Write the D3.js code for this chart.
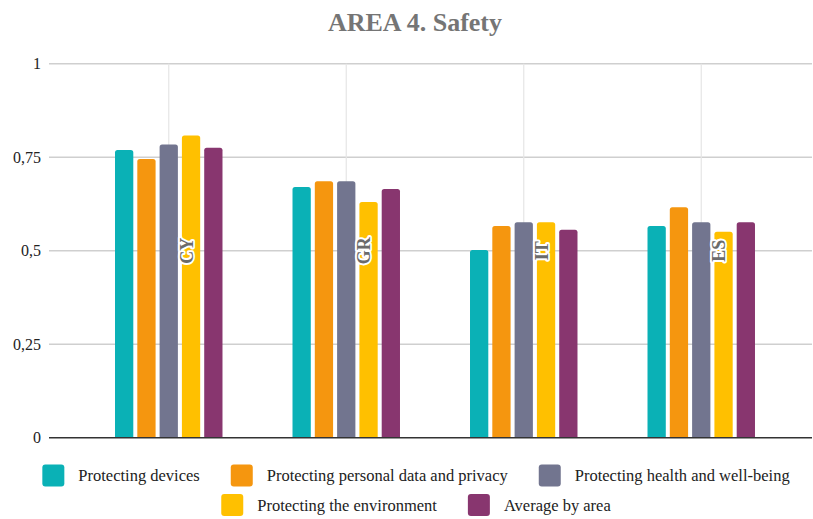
<!DOCTYPE html>
<html>
<head>
<meta charset="utf-8">
<script src="https://cdn.jsdelivr.net/npm/d3@7"></script>
<style>
  html, body { margin: 0; padding: 0; background: #fff; }
  svg { display: block; }
  text { font-family: "Liberation Serif", "DejaVu Serif", "Times New Roman", serif; }
</style>
</head>
<body>
<svg id="chart" width="813" height="519"></svg>
<script>
const title = "AREA 4. Safety";
const categories = ["CY", "GR", "IT", "ES"];
const seriesNames = [
  "Protecting devices",
  "Protecting personal data and privacy",
  "Protecting health and well-being",
  "Protecting the environment",
  "Average by area"
];
const seriesColors = ["#0AB1B6", "#F5960F", "#72758F", "#FFC000", "#88366F"];
const protectingDevices = [0.769, 0.670, 0.502, 0.566];
const protectingPersonalData = [0.745, 0.686, 0.566, 0.616];
const protectingHealth = [0.784, 0.686, 0.576, 0.576];
const protectingEnvironment = [0.808, 0.630, 0.576, 0.551];
const averageByArea = [0.775, 0.665, 0.556, 0.576];
const seriesValues = [protectingDevices, protectingPersonalData, protectingHealth, protectingEnvironment, averageByArea];
const yTicks = [0, 0.25, 0.5, 0.75, 1];
const yTickLabels = ["0", "0,25", "0,5", "0,75", "1"];
const legendRows = [[0, 1, 2], [3, 4]];

const FONT = '"Liberation Serif", "DejaVu Serif", "Times New Roman", serif';
const svg = d3.select("#chart");
const gridLeft = 49, gridRight = 812;

const x0 = d3.scaleBand().domain(categories).range([80, 790]).padding(0);
const x1 = d3.scaleBand().domain(seriesNames).range([0, x0.bandwidth()])
  .paddingInner(0.18).paddingOuter(1.57);
const y = d3.scaleLinear().domain([0, 1]).range([437.7, 63.7]);

// title
svg.append("text")
  .attr("x", 415).attr("y", 31)
  .attr("text-anchor", "middle")
  .attr("font-family", FONT)
  .attr("font-size", 26).attr("font-weight", "bold")
  .attr("fill", "#757575")
  .text(title);

// horizontal gridlines
svg.append("g").selectAll("line")
  .data(yTicks.filter(t => t > 0))
  .join("line")
  .attr("x1", gridLeft).attr("x2", gridRight)
  .attr("y1", d => y(d)).attr("y2", d => y(d))
  .attr("stroke", "#cfcfcf").attr("stroke-width", 1.5);

// vertical gridlines at category centers
svg.append("g").selectAll("line")
  .data(categories)
  .join("line")
  .attr("x1", d => x0(d) + x0.bandwidth() / 2)
  .attr("x2", d => x0(d) + x0.bandwidth() / 2)
  .attr("y1", y(1)).attr("y2", y(0))
  .attr("stroke", "#e6e6e6").attr("stroke-width", 1.2);

// y axis tick labels via d3 axis
const yAxis = d3.axisLeft(y).tickValues(yTicks)
  .tickFormat((d, i) => yTickLabels[i]).tickSize(0).tickPadding(0);
const yg = svg.append("g").attr("transform", "translate(41,0)").call(yAxis);
yg.attr("font-family", FONT);
yg.select(".domain").remove();
yg.selectAll("text")
  .attr("font-family", FONT)
  .attr("font-size", 16).attr("fill", "#222");

// bars
function barPath(x, yTop, w, yBase, r) {
  r = Math.min(r, (yBase - yTop));
  return `M${x},${yBase}V${yTop + r}Q${x},${yTop} ${x + r},${yTop}H${x + w - r}Q${x + w},${yTop} ${x + w},${yTop + r}V${yBase}Z`;
}
const groups = svg.append("g").selectAll("g")
  .data(categories)
  .join("g")
  .attr("transform", d => `translate(${x0(d)},0)`);
groups.selectAll("path")
  .data((c, ci) => seriesNames.map((s, si) => ({ s, si, v: seriesValues[si][ci] })))
  .join("path")
  .attr("d", d => barPath(x1(d.s), y(d.v), x1.bandwidth(), y(0), 2.5))
  .attr("fill", d => seriesColors[d.si]);

// baseline
svg.append("line")
  .attr("x1", gridLeft).attr("x2", gridRight)
  .attr("y1", y(0)).attr("y2", y(0))
  .attr("stroke", "#333").attr("stroke-width", 1.5);

// category labels (rotated, with halo)
svg.append("g").selectAll("text")
  .data(categories)
  .join("text")
  .attr("transform", d => `translate(${x0(d) + x0.bandwidth() / 2 + 18},${y(0.5)}) rotate(-90)`)
  .attr("text-anchor", "middle")
  .attr("dominant-baseline", "central")
  .attr("font-family", FONT)
  .attr("font-size", 18).attr("font-weight", "bold")
  .attr("fill", "#6b6b6b")
  .attr("stroke", "#fff").attr("stroke-width", 4)
  .attr("stroke-linejoin", "round")
  .attr("paint-order", "stroke")
  .text(d => d);

// legend
const legendCenter = 416;
const swatch = 22, swGap = 14, itemGap = 31;
const rowYs = [475.5, 505];
legendRows.forEach((row, ri) => {
  const g = svg.append("g");
  let xPos = 0;
  row.forEach((si, k) => {
    const item = g.append("g").attr("transform", `translate(${xPos},0)`);
    item.append("rect")
      .attr("x", 0).attr("y", rowYs[ri] - swatch / 2)
      .attr("width", swatch).attr("height", swatch)
      .attr("rx", 3).attr("fill", seriesColors[si]);
    const t = item.append("text")
      .attr("x", swatch + swGap).attr("y", rowYs[ri] + 5.5)
      .attr("font-family", FONT)
      .attr("font-size", 16.5).attr("fill", "#222")
      .text(seriesNames[si]);
    const tw = t.node().getComputedTextLength();
    xPos += swatch + swGap + tw + (k < row.length - 1 ? itemGap : 0);
  });
  g.attr("transform", `translate(${legendCenter - xPos / 2},0)`);
});
</script>
</body>
</html>
